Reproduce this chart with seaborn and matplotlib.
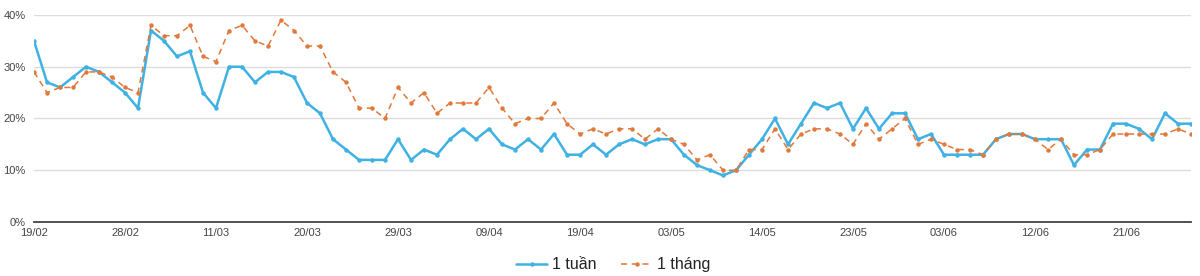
import matplotlib
matplotlib.use("Agg")
import matplotlib.pyplot as plt
import seaborn as sns
import numpy as np
import pandas as pd

tick_labels = ["19/02", "28/02", "11/03", "20/03", "29/03", "09/04", "19/04",
               "03/05", "14/05", "23/05", "03/06", "12/06", "21/06"]

week = [35, 27, 26, 28, 30, 29, 27, 25, 22, 37, 35, 32, 33, 25, 22, 30, 30, 27, 29, 29,
        28, 23, 21, 16, 14, 12, 12, 12, 16, 12, 14, 13, 16, 18, 16, 18, 15, 14, 16, 14,
        17, 13, 13, 15, 13, 15, 16, 15, 16, 16, 13, 11, 10, 9, 10, 13, 16, 20, 15, 19,
        23, 22, 23, 18, 22, 18, 21, 21, 16, 17, 13, 13, 13, 13, 16, 17, 17, 16, 16, 16,
        11, 14, 14, 19, 19, 18, 16, 21, 19, 19]

month = [29, 25, 26, 26, 29, 29, 28, 26, 25, 38, 36, 36, 38, 32, 31, 37, 38, 35, 34, 39,
         37, 34, 34, 29, 27, 22, 22, 20, 26, 23, 25, 21, 23, 23, 23, 26, 22, 19, 20, 20,
         23, 19, 17, 18, 17, 18, 18, 16, 18, 16, 15, 12, 13, 10, 10, 14, 14, 18, 14, 17,
         18, 18, 17, 15, 19, 16, 18, 20, 15, 16, 15, 14, 14, 13, 16, 17, 17, 16, 14, 16,
         13, 13, 14, 17, 17, 17, 17, 17, 18, 17]

series_names = ["1 tuần", "1 tháng"]
blue = "#3fb1e3"
orange = "#e0793a"

df = pd.DataFrame({"idx": np.arange(len(week)), "week": week, "month": month})

sns.set_style("white")
plt.rcParams['font.family'] = ['Liberation Sans', 'DejaVu Sans']

fig = plt.figure(figsize=(12, 2.76), dpi=100)
ax = fig.add_axes([34/1200, 1 - 222/276, (1191-34)/1200, (222-15)/276])

sns.lineplot(data=df, x="idx", y="week", ax=ax, color=blue, linewidth=1.8,
             marker="o", markersize=3.2, markeredgewidth=0, label=series_names[0])
sns.lineplot(data=df, x="idx", y="month", ax=ax, color=orange, linewidth=1.1,
             linestyle=(0, (4, 3)), marker="o", markersize=3.2, markeredgewidth=0,
             label=series_names[1])

ax.set_xlim(0, len(week) - 1)
ax.set_ylim(0, 40)
ax.set_yticks([0, 10, 20, 30, 40])
ax.set_yticklabels(["0%", "10%", "20%", "30%", "40%"])
ax.set_xticks(np.arange(0, len(week), 7)[:len(tick_labels)])
ax.set_xticklabels(tick_labels)
ax.grid(axis="y", color="#dddddd", linewidth=1)
ax.set_axisbelow(True)
for s in ["top", "right", "left"]:
    ax.spines[s].set_visible(False)
ax.spines["bottom"].set_color("#444444")
ax.spines["bottom"].set_linewidth(1.3)
ax.tick_params(axis="both", length=0, labelsize=8, labelcolor="#444444")
ax.tick_params(axis="y", pad=6)
ax.tick_params(axis="x", pad=4)
ax.set_xlabel("")
ax.set_ylabel("")

handles, labels = ax.get_legend_handles_labels()
ax.get_legend().remove()
fig.legend(handles, labels, loc="center", bbox_to_anchor=(0.511, 0.04), ncol=2,
           frameon=False, fontsize=11.5, handlelength=2.0, columnspacing=1.5,
           handletextpad=0.3, labelcolor="#222222", borderaxespad=0, borderpad=0)

fig.savefig("out.png", dpi=100)
